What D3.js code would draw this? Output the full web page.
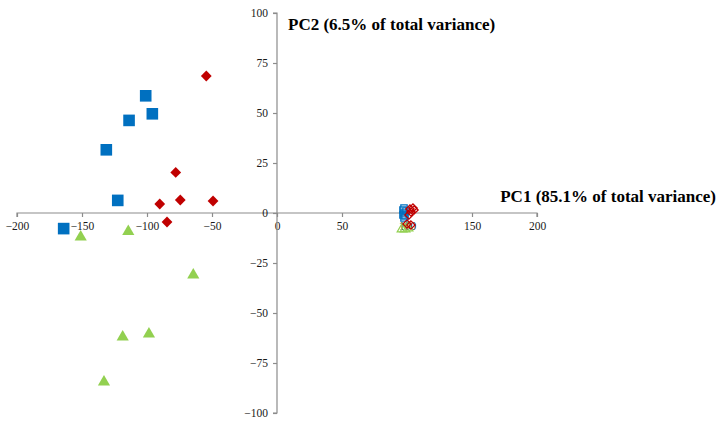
<!DOCTYPE html>
<html>
<head>
<meta charset="utf-8">
<script src="https://cdn.jsdelivr.net/npm/d3@7"></script>
<style>
  html, body { margin: 0; padding: 0; background: #fff; }
  svg { display: block; }
</style>
</head>
<body>
<svg id="chart" width="720" height="421"></svg>
<script>
// PCA scores: PC1 (x) and PC2 (y) for each group
const groupA = [[-101, 58.6], [-95.9, 49.6], [-113.8, 46.3], [-131.3, 31.6], [-122.5, 6.3], [-164.1, -7.8]];
const groupB = [[-54.4, 68.5], [-77.9, 20.3], [-74.4, 6.5], [-49.2, 6], [-90.2, 4.5], [-84.6, -4.5]];
const groupC = [[-151, -12], [-114.4, -9.3], [-64.4, -31], [-118.7, -62], [-98.5, -60.5], [-133.1, -84.5]];
const groupAref = [[96.9, 1.5], [97.7, 0], [96.9, -1], [97.7, 2.5], [98.5, -1.5], [99.2, 1], [97.7, -2.5]];
const groupBref = [[102.3, 2], [104.6, 2.5], [103.1, 0.5], [101.5, -1], [105.4, 1.5], [100, -5.5], [103, -6]];
const groupCref = [[96.2, -8], [98.5, -8], [100.8, -7.5]];

const xTicks = [-200, -150, -100, -50, 0, 50, 100, 150, 200];
const yTicks = [-100, -75, -50, -25, 0, 25, 50, 75, 100];
const xTitle = "PC1 (85.1% of total variance)";
const yTitle = "PC2 (6.5% of total variance)";

const colors = { blue: "#0070C0", red: "#C00000", green: "#92D050" };

const svg = d3.select("#chart");
const x = d3.scaleLinear().domain([-200, 200]).range([17, 537]);
const y = d3.scaleLinear().domain([-100, 100]).range([413, 13]);

const axisColor = "#8c8c8c";
const fontFamily = "Liberation Serif, Times New Roman, serif";

// Horizontal axis crossing at PC2 = 0
const gx = svg.append("g")
  .attr("transform", `translate(0,${y(0)})`)
  .call(d3.axisBottom(x).tickValues(xTicks).tickSize(4).tickPadding(5).tickFormat(d3.format("d")));

// Vertical axis crossing at PC1 = 0
const gy = svg.append("g")
  .attr("transform", `translate(${x(0)},0)`)
  .call(d3.axisLeft(y).tickValues(yTicks).tickSize(4).tickPadding(5).tickFormat(d3.format("d")));

[gx, gy].forEach(g => {
  g.attr("font-family", fontFamily).attr("font-size", 11.5);
  g.select(".domain").attr("stroke", axisColor).attr("stroke-width", 1.2);
  g.selectAll(".tick line").attr("stroke", axisColor).attr("stroke-width", 1.2);
  g.selectAll(".tick text").attr("fill", "#1a1a1a");
});
gx.select(".domain").attr("d", `M${x(-200)},4V0H${x(200)}V4`);
gy.select(".domain").attr("d", `M-4,${y(100)}H0V${y(-100)}H-4`);

// Axis titles
svg.append("text")
  .attr("x", 288).attr("y", 30)
  .attr("font-family", fontFamily).attr("font-size", 17).attr("font-weight", "bold")
  .attr("fill", "#000")
  .text(yTitle);
svg.append("text")
  .attr("x", 716).attr("y", 202)
  .attr("text-anchor", "end")
  .attr("font-family", fontFamily).attr("font-size", 17).attr("font-weight", "bold")
  .attr("fill", "#000")
  .text(xTitle);

function drawGroup(data, type, size, color, filled, rotate) {
  const gen = d3.symbol().type(type).size(size);
  svg.append("g").selectAll("path").data(data).join("path")
    .attr("d", gen)
    .attr("transform", d => `translate(${x(d[0])},${y(d[1])})` + (rotate ? " rotate(45)" : ""))
    .attr("fill", filled ? color : "none")
    .attr("stroke", filled ? "none" : color)
    .attr("stroke-width", filled ? 0 : 1.3);
}

// Reference cluster near PC1 = 100 (open markers)
drawGroup(groupAref, d3.symbolSquare, 40, colors.blue, false, false);
drawGroup(groupCref, d3.symbolTriangle, 40, colors.green, false, false);
drawGroup(groupBref, d3.symbolSquare, 34, colors.red, false, true);

// Filled sample markers
drawGroup(groupA, d3.symbolSquare, 135, colors.blue, true, false);
drawGroup(groupB, d3.symbolSquare, 58, colors.red, true, true);
drawGroup(groupC, d3.symbolTriangle, 64, colors.green, true, false);
</script>
</body>
</html>
